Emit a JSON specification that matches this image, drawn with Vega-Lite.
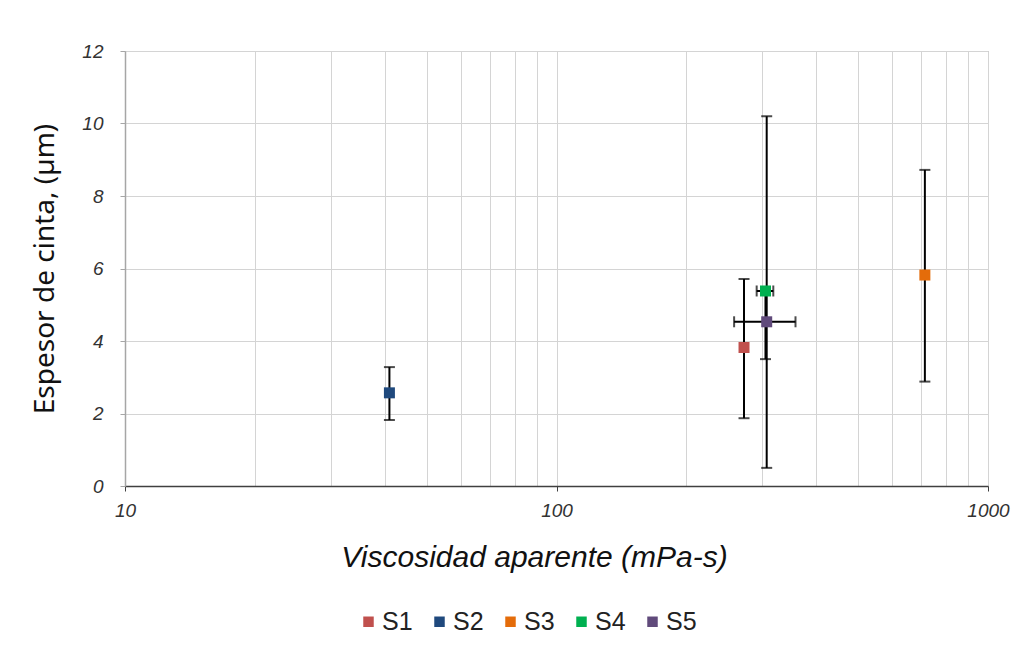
{
  "$schema": "https://vega.github.io/schema/vega-lite/v6.json",
  "autosize": {"type": "none"},
  "padding": {"left": 125, "top": 51, "right": 41, "bottom": 165},
  "width": 863,
  "height": 435,
  "background": "white",
  "config": {
    "view": {"stroke": "#a6a6a6", "strokeWidth": 1},
    "font": "Liberation Sans",
    "axisX": {
      "titleFont": "Liberation Sans",
      "titleFontStyle": "italic",
      "titleFontWeight": "normal",
      "titleFontSize": 30,
      "titleColor": "#111111",
      "titlePadding": 22,
      "titleX": 409,
      "labelFont": "Liberation Sans",
      "labelFontStyle": "italic",
      "labelFontSize": 19,
      "labelColor": "#333333",
      "labelPadding": 10,
      "labelOverlap": false,
      "labelFlush": false,
      "grid": true,
      "gridColor": "#d4d4d4",
      "gridWidth": 1,
      "domainColor": "#404040",
      "domainWidth": 1.5,
      "tickColor": "#404040",
      "tickSize": 5
    },
    "axisY": {
      "titleFont": "Noto Sans",
      "titleFontWeight": "normal",
      "titleFontSize": 28,
      "titleColor": "#111111",
      "titlePadding": 22,
      "labelFont": "Liberation Sans",
      "labelFontStyle": "italic",
      "labelFontSize": 19,
      "labelColor": "#333333",
      "labelPadding": 17,
      "labelOverlap": false,
      "grid": true,
      "gridColor": "#d4d4d4",
      "gridWidth": 1,
      "domainColor": "#a6a6a6",
      "domainWidth": 1.5,
      "tickColor": "#a6a6a6",
      "tickSize": 5
    }
  },
  "data": {
    "values": [
      {"serie": "S1", "x": 272, "y": 3.82, "ylo": 1.87, "yhi": 5.71},
      {"serie": "S2", "x": 41, "y": 2.57, "ylo": 1.82, "yhi": 3.28},
      {"serie": "S3", "x": 714, "y": 5.82, "ylo": 2.88, "yhi": 8.72},
      {"serie": "S4", "x": 305, "y": 5.38, "ylo": 3.5, "yhi": 5.38, "xlo": 291, "xhi": 318},
      {"serie": "S5", "x": 307, "y": 4.53, "ylo": 0.5, "yhi": 10.2, "xlo": 258, "xhi": 358}
    ]
  },
  "layer": [
    {
      "mark": {"type": "errorbar", "ticks": true, "size": 11, "thickness": 2, "color": "#000000"},
      "encoding": {
        "x": {
          "field": "x",
          "type": "quantitative",
          "scale": {"type": "log", "domain": [10, 1000], "nice": false},
          "axis": {
            "title": "Viscosidad aparente (mPa-s)",
            "values": [10, 20, 30, 40, 50, 60, 70, 80, 90, 100, 200, 300, 400, 500, 600, 700, 800, 900, 1000],
            "labelExpr": "(datum.value == 10 || datum.value == 100 || datum.value == 1000) ? datum.label : ''",
            "format": "d",
            "tickOpacity": {"condition": {"test": "datum.value == 10 || datum.value == 100 || datum.value == 1000", "value": 1}, "value": 0}
          }
        },
        "y": {
          "field": "ylo",
          "type": "quantitative",
          "scale": {"domain": [0, 12], "nice": false, "zero": true},
          "axis": {
            "title": "Espesor de cinta, (µm)",
            "tickCount": 60,
            "format": "d",
            "labelExpr": "abs(datum.value / 2 - round(datum.value / 2)) < 0.001 ? datum.label : ''",
            "tickOpacity": {"condition": {"test": "abs(datum.value / 2 - round(datum.value / 2)) < 0.001", "value": 1}, "value": 0},
            "gridOpacity": {"condition": {"test": "abs(datum.value * 2.5 - round(datum.value * 2.5)) < 0.001", "value": 1}, "value": 0}
          }
        },
        "y2": {"field": "yhi"}
      }
    },
    {
      "transform": [{"filter": "isValid(datum.xlo)"}],
      "mark": {"type": "errorbar", "ticks": true, "size": 11, "thickness": 2, "color": "#000000"},
      "encoding": {
        "y": {
          "field": "y",
          "type": "quantitative",
          "scale": {"domain": [0, 12], "nice": false, "zero": true},
          "axis": {
            "title": "Espesor de cinta, (µm)",
            "tickCount": 60,
            "format": "d",
            "labelExpr": "abs(datum.value / 2 - round(datum.value / 2)) < 0.001 ? datum.label : ''",
            "tickOpacity": {"condition": {"test": "abs(datum.value / 2 - round(datum.value / 2)) < 0.001", "value": 1}, "value": 0},
            "gridOpacity": {"condition": {"test": "abs(datum.value * 2.5 - round(datum.value * 2.5)) < 0.001", "value": 1}, "value": 0}
          }
        },
        "x": {
          "field": "xlo",
          "type": "quantitative",
          "scale": {"type": "log", "domain": [10, 1000], "nice": false},
          "axis": {
            "title": "Viscosidad aparente (mPa-s)",
            "values": [10, 20, 30, 40, 50, 60, 70, 80, 90, 100, 200, 300, 400, 500, 600, 700, 800, 900, 1000],
            "labelExpr": "(datum.value == 10 || datum.value == 100 || datum.value == 1000) ? datum.label : ''",
            "format": "d",
            "tickOpacity": {"condition": {"test": "datum.value == 10 || datum.value == 100 || datum.value == 1000", "value": 1}, "value": 0}
          }
        },
        "x2": {"field": "xhi"}
      }
    },
    {
      "mark": {"type": "square", "size": 121, "opacity": 1, "filled": true},
      "encoding": {
        "x": {
          "field": "x",
          "type": "quantitative",
          "scale": {"type": "log", "domain": [10, 1000], "nice": false},
          "axis": {
            "title": "Viscosidad aparente (mPa-s)",
            "values": [10, 20, 30, 40, 50, 60, 70, 80, 90, 100, 200, 300, 400, 500, 600, 700, 800, 900, 1000],
            "labelExpr": "(datum.value == 10 || datum.value == 100 || datum.value == 1000) ? datum.label : ''",
            "format": "d",
            "tickOpacity": {"condition": {"test": "datum.value == 10 || datum.value == 100 || datum.value == 1000", "value": 1}, "value": 0}
          }
        },
        "y": {
          "field": "y",
          "type": "quantitative",
          "scale": {"domain": [0, 12], "nice": false, "zero": true},
          "axis": {
            "title": "Espesor de cinta, (µm)",
            "tickCount": 60,
            "format": "d",
            "labelExpr": "abs(datum.value / 2 - round(datum.value / 2)) < 0.001 ? datum.label : ''",
            "tickOpacity": {"condition": {"test": "abs(datum.value / 2 - round(datum.value / 2)) < 0.001", "value": 1}, "value": 0},
            "gridOpacity": {"condition": {"test": "abs(datum.value * 2.5 - round(datum.value * 2.5)) < 0.001", "value": 1}, "value": 0}
          }
        },
        "color": {
          "field": "serie",
          "type": "nominal",
          "scale": {
            "domain": ["S1", "S2", "S3", "S4", "S5"],
            "range": ["#C0504D", "#1F497D", "#E46C0A", "#00B050", "#604A7B"]
          },
          "legend": {
            "title": null,
            "orient": "none",
            "legendX": 231,
            "legendY": 558,
            "direction": "horizontal",
            "symbolType": "square",
            "symbolSize": 110,
            "symbolStrokeWidth": 0,
            "labelFont": "Liberation Sans",
            "labelFontSize": 25,
            "labelColor": "#222222",
            "labelOffset": 1,
            "columnPadding": 14
          }
        }
      }
    }
  ]
}
